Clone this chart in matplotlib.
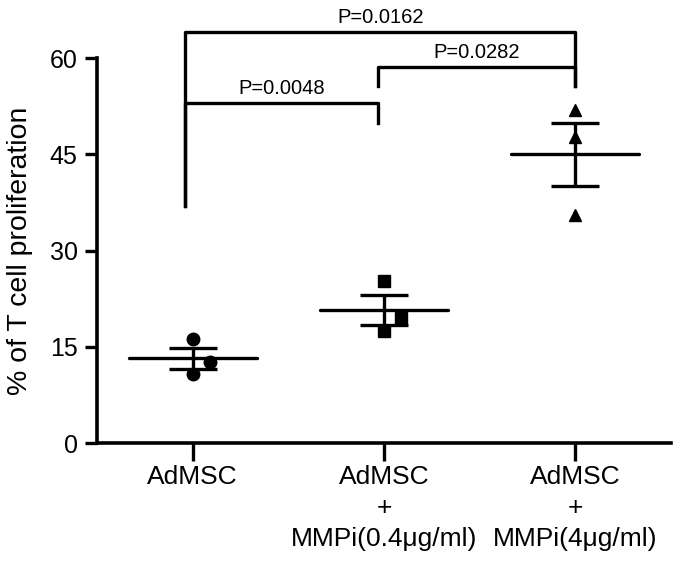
import numpy as np
import matplotlib
matplotlib.use("Agg")
import matplotlib.pyplot as plt

plt.rcParams['font.family'] = ['Liberation Sans', 'DejaVu Sans']

# Data
groups = ["AdMSC", "AdMSC\n+\nMMPi(0.4μg/ml)", "AdMSC\n+\nMMPi(4μg/ml)"]
admsc = [16.2, 12.6, 10.75]
mmpi_low = [25.2, 19.5, 17.5]
mmpi_high = [51.9, 47.7, 35.5]
jitter = [[0, 0.09, 0], [0, 0.09, 0], [0, 0, 0]]
markers = ["o", "s", "^"]
msizes = [9, 8, 9]

# significance brackets: (x1, x2, bar height, left end, right end, label)
brackets = [
    (0.96, 3.0, 64.1, 36.9, 55.6, "P=0.0162"),
    (1.97, 3.0, 58.6, 55.6, 55.6, "P=0.0282"),
    (0.96, 1.97, 53.0, 36.9, 49.8, "P=0.0048"),
]

fig = plt.figure(figsize=(6.75, 5.65), dpi=100)
ax = fig.add_axes([0.1437, 0.2159, 0.8503, 0.6814])

lw = 2.4
for i, vals in enumerate([admsc, mmpi_low, mmpi_high]):
    x = i + 1
    vals = np.array(vals)
    mean = vals.mean()
    sem = vals.std(ddof=1) / np.sqrt(len(vals))
    ax.plot(x + np.array(jitter[i]), vals, linestyle="none", marker=markers[i],
            markersize=msizes[i], color="black", zorder=3)
    ax.plot([x - 0.335, x + 0.335], [mean, mean], color="black", lw=lw,
            solid_capstyle="round", zorder=4)
    ax.errorbar(x, mean, yerr=sem, color="black", lw=lw, capsize=17,
                capthick=lw, zorder=4)

for x1, x2, h, y1, y2, label in brackets:
    ax.plot([x1, x1, x2, x2], [y1, h, h, y2], color="black", lw=lw,
            clip_on=False)
    ax.text((x1 + x2) / 2, h + 0.8, label, ha="center", va="bottom",
            fontsize=14.5)

ax.set_xlim(0.5, 3.5)
ax.set_ylim(0, 60)
ax.set_yticks([0, 15, 30, 45, 60])
ax.set_xticks([1, 2, 3])
ax.set_xticklabels(groups, fontsize=19, linespacing=1.35)
ax.tick_params(axis="y", labelsize=18, width=2.4, length=9, pad=5)
ax.tick_params(axis="x", width=2.4, length=13, pad=3)
ax.spines["top"].set_visible(False)
ax.spines["right"].set_visible(False)
ax.spines["left"].set_linewidth(2.6)
ax.spines["bottom"].set_linewidth(2.6)
ax.set_ylabel("% of T cell proliferation", fontsize=20.5, labelpad=12)

fig.savefig("out.png", dpi=100)
